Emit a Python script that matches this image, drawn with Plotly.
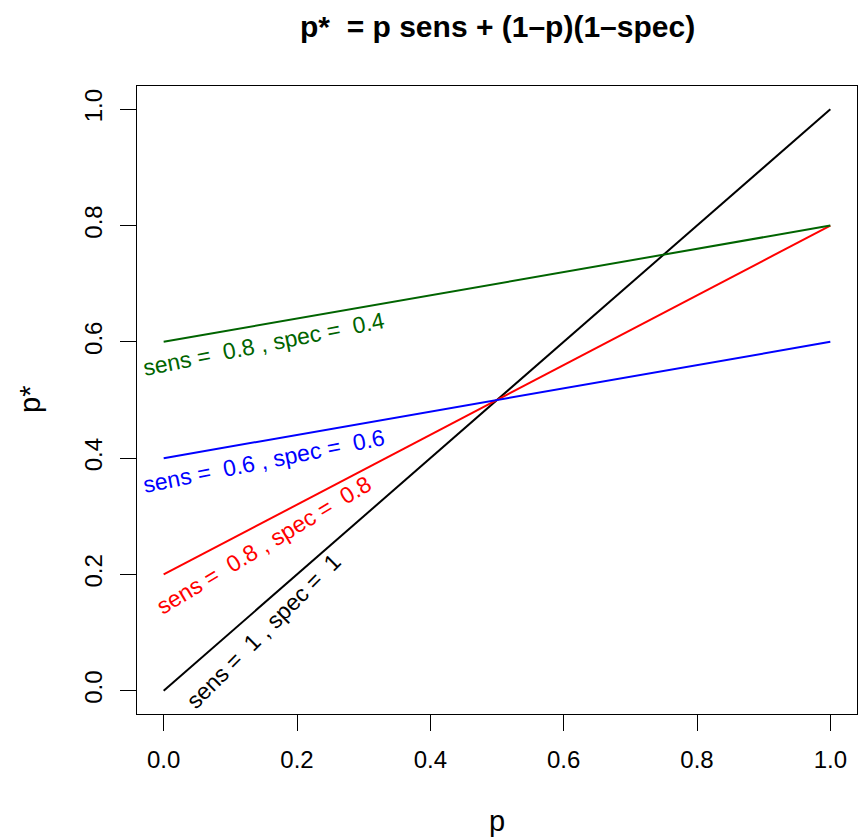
import math
import plotly.graph_objects as go

# Misclassification scenarios: sensitivity / specificity of the test
sens = [1.0, 0.8, 0.6, 0.8]
spec = [1.0, 0.8, 0.6, 0.4]
line_colors = ["#000000", "#FF0000", "#0000FF", "#006400"]

# True prevalence p at the two ends of each line, and observed prevalence p*
p_ends = [0.0, 1.0]
pstar_at_p0 = [0.0, 0.2, 0.4, 0.6]
pstar_at_p1 = [1.0, 0.8, 0.6, 0.8]

tick_vals = [0.0, 0.2, 0.4, 0.6, 0.8, 1.0]
tick_text = ["0.0", "0.2", "0.4", "0.6", "0.8", "1.0"]

W, H = 867, 839
M_L, M_R, M_T, M_B = 137, 10, 86, 125
X_RANGE = [-0.04, 1.04]
Y_RANGE = [-0.04, 1.04]
px_y = (H - M_T - M_B) / (Y_RANGE[1] - Y_RANGE[0])

FONT = "Liberation Sans, Arial, Helvetica, sans-serif"
NB = "\u00a0"

fig = go.Figure()
for y0, y1, c in zip(pstar_at_p0, pstar_at_p1, line_colors):
    fig.add_trace(go.Scatter(
        x=p_ends, y=[y0, y1], mode="lines",
        line=dict(color=c, width=2), hoverinfo="skip",
    ))

# Labels written just below each line, centred at p = 0.15; the text is
# rotated by the slope angle in data units (atan of the slope)
label_p = 0.15
offset_px = 19.5
annotations = []
for se, sp, y0, y1, c in zip(sens, spec, pstar_at_p0, pstar_at_p1, line_colors):
    slope = (y1 - y0) / (p_ends[1] - p_ends[0])
    theta = math.atan(slope)
    y_line = y0 + slope * (label_p - p_ends[0])
    y_lab = y_line - (offset_px / math.cos(theta)) / px_y
    fmt = lambda v: f"{v:g}"
    txt = f"sens ={NB} {fmt(se)} , spec ={NB} {fmt(sp)}"
    annotations.append(dict(
        x=label_p, y=y_lab, xref="x", yref="y", text=txt, showarrow=False,
        textangle=-math.degrees(theta), xanchor="center", yanchor="middle",
        font=dict(family=FONT, size=23, color=c),
    ))

# Title and axis titles
annotations.append(dict(
    x=0.5, y=1 + (M_T - 26) / (H - M_T - M_B), xref="paper", yref="paper",
    text=f"<b>p*{NB} = p sens + (1\u2013p)(1\u2013spec)</b>", showarrow=False,
    xanchor="center", yanchor="middle",
    font=dict(family=FONT, size=30, color="black"),
))
annotations.append(dict(
    x=0.5, y=-(821 - (H - M_B)) / (H - M_T - M_B), xref="paper", yref="paper",
    text="p", showarrow=False, xanchor="center", yanchor="middle",
    font=dict(family=FONT, size=29, color="black"),
))
annotations.append(dict(
    x=-(M_L - 30) / (W - M_L - M_R), y=0.5, xref="paper", yref="paper",
    text="p*", showarrow=False, xanchor="center", yanchor="middle",
    textangle=-90, font=dict(family=FONT, size=29, color="black"),
))

axis_common = dict(
    showgrid=False, zeroline=False, showline=True, mirror=True,
    linecolor="black", linewidth=1,
    ticks="outside", ticklen=16, tickwidth=1, tickcolor="black",
    tickvals=tick_vals, ticktext=tick_text,
    tickfont=dict(family=FONT, size=24, color="black"),
    ticklabelstandoff=8,
    fixedrange=True,
)

fig.update_layout(
    width=W, height=H,
    margin=dict(l=M_L, r=M_R, t=M_T, b=M_B, pad=0),
    paper_bgcolor="white", plot_bgcolor="white",
    showlegend=False,
    xaxis=dict(range=X_RANGE, **axis_common),
    yaxis=dict(range=Y_RANGE, tickangle=-90, **axis_common),
    annotations=annotations,
)

fig.write_html("out.html")
